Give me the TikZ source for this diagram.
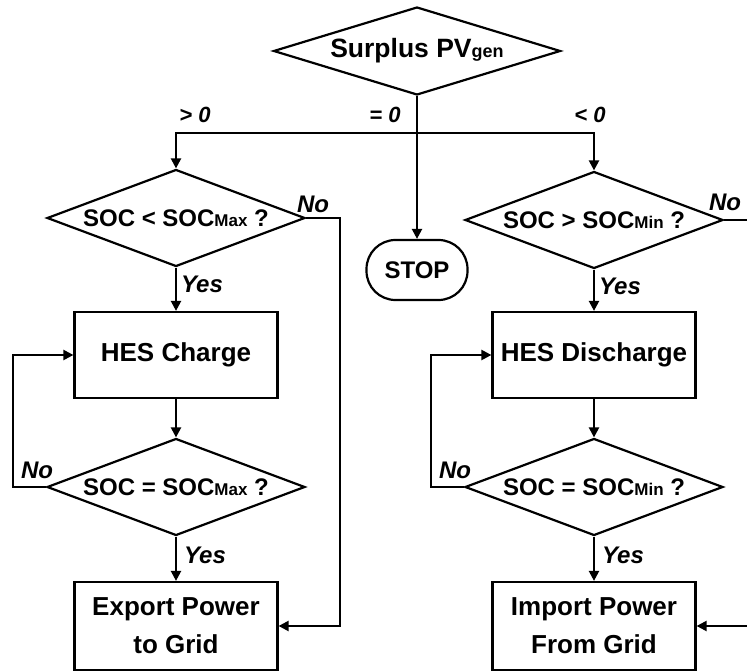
\documentclass[tikz,border=0pt]{standalone}
\usepackage{fontspec}
\setmainfont{Liberation Sans}
\usetikzlibrary{shapes.geometric,arrows.meta}
\begin{document}
\begin{tikzpicture}[x=1pt,y=-1pt, line width=2.2pt,
  dec/.style={diamond, draw, minimum width=258pt, minimum height=97pt, inner sep=0pt,
    font=\fontsize{24}{28}\selectfont\bfseries},
  box/.style={rectangle, draw, minimum width=203pt, minimum height=86pt, align=center,
    font=\fontsize{26}{38}\selectfont\bfseries},
  lbl/.style={font=\fontsize{24}{27}\selectfont\bfseries\itshape, inner sep=0pt},
  sgn/.style={font=\fontsize{22}{26}\selectfont\bfseries\itshape, inner sep=0pt},
  arr/.style={-{Triangle[length=10pt,width=10pt]}},
]
\useasboundingbox (0,0) rectangle (747,671);
\newcommand{\smalltxt}[1]{{\fontsize{17}{20}\selectfont #1}}
% nodes
\node[dec, minimum width=287pt, minimum height=88pt, font=\fontsize{26.5}{30}\selectfont\bfseries] (top) at (417,51)
  {\makebox[0pt]{Surplus PV{\fontsize{18}{20}\selectfont gen}}};
\node[dec] (d1) at (176,218) {\makebox[0pt]{SOC < SOC\smalltxt{Max} ?}};
\node[dec] (d3) at (594,220) {\makebox[0pt]{SOC > SOC\smalltxt{Min} ?}};
\node[draw, rectangle, rounded corners=29pt, minimum width=101pt, minimum height=60pt,
  font=\fontsize{24}{27}\selectfont\bfseries] (stop) at (417,270) {STOP};
\node[box] (box1) at (176,355) {HES Charge};
\node[box] (box3) at (594,355) {HES Discharge};
\node[dec] (d2) at (176,487) {\makebox[0pt]{SOC = SOC\smalltxt{Max} ?}};
\node[dec] (d4) at (594,487) {\makebox[0pt]{SOC = SOC\smalltxt{Min} ?}};
\node[box, minimum height=88pt] (box2) at (176,626) {Export Power\\to Grid};
\node[box, minimum height=88pt] (box4) at (594,626) {Import Power\\From Grid};
% coordinates
\coordinate (jn) at (417,133);
\coordinate (nl) at (340,218);
\coordinate (nr) at (747,220);
\coordinate (ir) at (747,626);
\coordinate (ll) at (13,487);
\coordinate (rl) at (431,487);
% connectors
\draw[arr] (top.south) -- (stop.north);
\draw[arr] (jn) -| (d1.north);
\draw[arr] (jn) -| (d3.north);
\draw[arr] (d1.south) -- (box1.north);
\draw[arr] (d1.east) -- (nl) |- (box2.east);
\draw[arr] (box1.south) -- (d2.north);
\draw[arr] (d2.west) -- (ll) |- (box1.west);
\draw[arr] (d2.south) -- (box2.north);
\draw[arr] (d3.south) -- (box3.north);
\draw (d3.east) -- (nr);
\draw[arr] (box3.south) -- (d4.north);
\draw[arr] (d4.west) -- (rl) |- (box3.west);
\draw[arr] (d4.south) -- (box4.north);
\draw[arr] (ir) -- (box4.east);
% labels
\node[sgn] (g1) at (195,115) {> 0};
\node[sgn] (g2) at (385,115) {= 0};
\node[sgn] (g3) at (590,115) {< 0};
\node[lbl, anchor=west] (y1) at (180,284) {Yes};
\node[lbl, anchor=west] (y2) at (183,555) {Yes};
\node[lbl, anchor=west] (y3) at (598,286) {Yes};
\node[lbl, anchor=west] (y4) at (601,555) {Yes};
\node[lbl] (n1) at (313,204) {No};
\node[lbl] (n2) at (37,470) {No};
\node[lbl] (n3) at (725,202) {No};
\node[lbl] (n4) at (455,470) {No};
\end{tikzpicture}
\end{document}
